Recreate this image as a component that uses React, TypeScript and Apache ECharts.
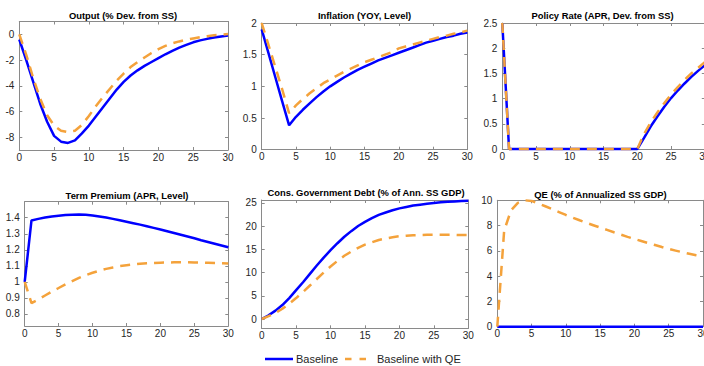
import React, { useEffect, useRef } from 'react';
import * as echarts from 'echarts';

const FONT = "'Liberation Sans', Arial, Helvetica, sans-serif";
const BLUE = '#0000ff';
const ORANGE = '#f4a23b';
const AXIS_GRAY = '#8a8a8a';
const LABEL = '#262626';

const quarters = [0, 1, 2, 3, 4, 5, 6, 7, 8, 9, 10, 11, 12, 13, 14, 15, 16, 17, 18, 19, 20, 21, 22, 23, 24, 25, 26, 27, 28, 29, 30];
const xTicks = [0, 5, 10, 15, 20, 25, 30];

const titles = [
  'Output (% Dev. from SS)',
  'Inflation (YOY, Level)',
  'Policy Rate (APR, Dev. from SS)',
  'Term Premium (APR, Level)',
  'Cons. Government Debt (% of Ann. SS GDP)',
  'QE (% of Annualized SS GDP)',
];
const seriesNames = ['Baseline', 'Baseline with QE'];

const outputBase = [-0.4, -2.0, -3.7, -5.4, -6.8, -7.9, -8.35, -8.45, -8.25, -7.7, -7.1, -6.4, -5.7, -5.0, -4.3, -3.7, -3.2, -2.8, -2.45, -2.15, -1.85, -1.55, -1.28, -1.03, -0.82, -0.62, -0.47, -0.35, -0.25, -0.17, -0.1];
const outputQE = [0, -1.6, -3.4, -5.0, -6.3, -7.1, -7.5, -7.6, -7.5, -7.05, -6.35, -5.6, -4.9, -4.25, -3.6, -3.05, -2.55, -2.15, -1.8, -1.45, -1.15, -0.9, -0.7, -0.55, -0.42, -0.32, -0.22, -0.14, -0.07, -0.02, 0.02];
const outputTicks = [-8, -6, -4, -2, 0];

const inflationBase = [1.9, 1.52, 1.14, 0.76, 0.385, 0.52, 0.63, 0.73, 0.83, 0.92, 1.0, 1.07, 1.14, 1.2, 1.26, 1.31, 1.36, 1.41, 1.45, 1.49, 1.53, 1.57, 1.61, 1.65, 1.69, 1.72, 1.75, 1.78, 1.8, 1.83, 1.85];
const inflationQE = [2.0, 1.65, 1.3, 0.95, 0.575, 0.7, 0.8, 0.89, 0.97, 1.05, 1.11, 1.17, 1.23, 1.28, 1.33, 1.38, 1.42, 1.46, 1.5, 1.54, 1.6, 1.63, 1.66, 1.69, 1.72, 1.75, 1.78, 1.8, 1.83, 1.85, 1.88];
const inflationTicks = [0, 0.5, 1, 1.5, 2];

const policyBase = [2.5, 0, 0, 0, 0, 0, 0, 0, 0, 0, 0, 0, 0, 0, 0, 0, 0, 0, 0, 0, 0, 0.22, 0.45, 0.65, 0.84, 1.01, 1.16, 1.3, 1.43, 1.55, 1.66];
const policyQE = [2.5, 0, 0, 0, 0, 0, 0, 0, 0, 0, 0, 0, 0, 0, 0, 0, 0, 0, 0, 0, 0, 0.3, 0.53, 0.73, 0.91, 1.08, 1.23, 1.37, 1.5, 1.61, 1.72];
const policyTicks = [0, 0.5, 1, 1.5, 2, 2.5];

const termBase = [1.0, 1.383, 1.393, 1.401, 1.408, 1.413, 1.417, 1.419, 1.42, 1.418, 1.414, 1.408, 1.401, 1.393, 1.384, 1.375, 1.366, 1.357, 1.347, 1.337, 1.327, 1.316, 1.305, 1.294, 1.283, 1.272, 1.26, 1.249, 1.238, 1.227, 1.216];
const termQE = [1.0, 0.868, 0.89, 0.915, 0.94, 0.962, 0.985, 1.005, 1.025, 1.042, 1.057, 1.07, 1.081, 1.09, 1.098, 1.104, 1.109, 1.113, 1.116, 1.118, 1.12, 1.121, 1.122, 1.122, 1.122, 1.121, 1.12, 1.119, 1.118, 1.116, 1.114];
const termTicks = [0.8, 0.9, 1, 1.1, 1.2, 1.3, 1.4];

const debtBase = [0, 0.8, 1.8, 3.0, 4.5, 6.2, 7.9, 9.7, 11.5, 13.2, 14.8, 16.3, 17.7, 18.9, 20.0, 20.9, 21.7, 22.4, 22.9, 23.4, 23.8, 24.1, 24.4, 24.6, 24.8, 24.95, 25.1, 25.2, 25.3, 25.4, 25.45];
const debtQE = [0, 0.6, 1.3, 2.2, 3.3, 4.5, 5.8, 7.2, 8.6, 10.0, 11.3, 12.5, 13.6, 14.5, 15.3, 16.0, 16.5, 17.0, 17.3, 17.6, 17.8, 17.9, 18.0, 18.05, 18.1, 18.1, 18.1, 18.1, 18.1, 18.05, 18.05];
const debtTicks = [0, 5, 10, 15, 20, 25];

const qeBase = [0, 0, 0, 0, 0, 0, 0, 0, 0, 0, 0, 0, 0, 0, 0, 0, 0, 0, 0, 0, 0, 0, 0, 0, 0, 0, 0, 0, 0, 0, 0];
const qeQE = [0, 7.6, 9.2, 9.8, 10.0, 9.95, 9.75, 9.53, 9.3, 9.07, 8.84, 8.63, 8.42, 8.22, 8.03, 7.84, 7.66, 7.47, 7.29, 7.11, 6.94, 6.78, 6.62, 6.46, 6.3, 6.15, 6.02, 5.89, 5.77, 5.65, 5.54];
const qeTicks = [0, 2, 4, 6, 8, 10];

const panels = [
  { base: outputBase, qe: outputQE, yMin: -9, yMax: 1, yTicks: outputTicks, box: { left: 19.3, top: 21.5, width: 208.7, height: 128.5 }, tx: 123, ty: 15 },
  { base: inflationBase, qe: inflationQE, yMin: 0, yMax: 2, yTicks: inflationTicks, box: { left: 261.7, top: 23, width: 205.6, height: 126.7 }, tx: 364.5, ty: 15.3 },
  { base: policyBase, qe: policyQE, yMin: 0, yMax: 2.5, yTicks: policyTicks, box: { left: 502.3, top: 23, width: 202.5, height: 126 }, tx: 602.5, ty: 15.8 },
  { base: termBase, qe: termQE, yMin: 0.725, yMax: 1.5, yTicks: termTicks, box: { left: 24.7, top: 201.7, width: 203.6, height: 124.3 }, tx: 127, ty: 195 },
  { base: debtBase, qe: debtQE, yMin: -2, yMax: 25.6, yTicks: debtTicks, box: { left: 261.7, top: 200, width: 206.6, height: 128.3 }, tx: 366, ty: 192.5 },
  { base: qeBase, qe: qeQE, yMin: 0, yMax: 10, yTicks: qeTicks, box: { left: 497.3, top: 200.3, width: 205.7, height: 126.4 }, tx: 600.5, ty: 194 },
];

function buildOption() {
  const grid: any[] = [];
  const xAxis: any[] = [];
  const yAxis: any[] = [];
  const series: any[] = [];
  const graphic: any[] = [];
  const lineStyle = { color: AXIS_GRAY, width: 1 };
  const tickStyle = { color: AXIS_GRAY, width: 1 };

  panels.forEach((p, i) => {
    grid.push({ ...p.box, containLabel: false, outerBoundsMode: 'none' });
    const xBase = {
      gridIndex: i, type: 'value', min: 0, max: 30, interval: 5,
      axisLine: { show: true, onZero: false, lineStyle },
      axisTick: { show: true, inside: true, length: 3, lineStyle: tickStyle },
      splitLine: { show: false },
    };
    xAxis.push({ ...xBase, position: 'bottom', axisLabel: { show: true, fontSize: 10, color: LABEL, fontFamily: FONT, margin: 2, customValues: xTicks } });
    xAxis.push({ ...xBase, position: 'top', axisLabel: { show: false } });
    const yBase = {
      gridIndex: i, type: 'value', min: p.yMin, max: p.yMax,
      axisLine: { show: true, onZero: false, lineStyle },
      axisTick: { show: true, inside: true, length: 3, lineStyle: tickStyle, customValues: p.yTicks },
      splitLine: { show: false },
    };
    yAxis.push({ ...yBase, position: 'left', axisLabel: { show: true, fontSize: 10, color: LABEL, fontFamily: FONT, margin: 5, customValues: p.yTicks } });
    yAxis.push({ ...yBase, position: 'right', axisLabel: { show: false } });

    series.push({
      type: 'line', name: seriesNames[0], xAxisIndex: 2 * i, yAxisIndex: 2 * i,
      data: quarters.map((q, k) => [q, p.base[k]]),
      showSymbol: false, symbol: 'none', clip: false, z: 3,
      lineStyle: { color: BLUE, width: 2.5 }, itemStyle: { color: BLUE },
    });
    series.push({
      type: 'line', name: seriesNames[1], xAxisIndex: 2 * i, yAxisIndex: 2 * i,
      data: quarters.map((q, k) => [q, p.qe[k]]),
      showSymbol: false, symbol: 'none', clip: false, z: 4,
      lineStyle: { color: ORANGE, width: 2.5, type: [10, 7] }, itemStyle: { color: ORANGE },
    });

    graphic.push({
      type: 'text', x: p.tx, y: p.ty,
      style: { text: titles[i], fontSize: 9.4, fontWeight: 'bold', fontFamily: FONT, fill: '#000', align: 'center', verticalAlign: 'middle' },
    });
  });

  // legend drawn as graphic items
  const ly = 359;
  graphic.push({ type: 'line', shape: { x1: 265, y1: ly, x2: 293, y2: ly }, style: { stroke: BLUE, lineWidth: 2.5 } });
  graphic.push({ type: 'text', x: 296, y: ly, style: { text: seriesNames[0], fontSize: 11, fontFamily: FONT, fill: LABEL, align: 'left', verticalAlign: 'middle' } });
  graphic.push({ type: 'line', shape: { x1: 345, y1: ly, x2: 367, y2: ly }, style: { stroke: ORANGE, lineWidth: 2.5, lineDash: [6.5, 8] } });
  graphic.push({ type: 'text', x: 377, y: ly, style: { text: seriesNames[1], fontSize: 11, fontFamily: FONT, fill: LABEL, align: 'left', verticalAlign: 'middle' } });

  return {
    animation: false,
    grid, xAxis, yAxis, series, graphic,
  };
}

export default function App() {
  const ref = useRef<HTMLDivElement>(null);
  useEffect(() => {
    if (!ref.current) return;
    const chart = echarts.init(ref.current, undefined, { renderer: 'svg' });
    chart.setOption(buildOption() as any);
    return () => chart.dispose();
  }, []);
  return <div ref={ref} style={{ position: 'absolute', left: 0, top: 0, width: 704, height: 366, background: '#fff' }} />;
}
